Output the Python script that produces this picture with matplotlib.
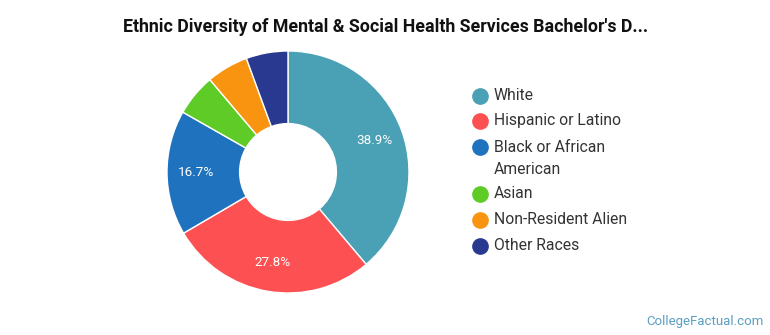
import matplotlib
matplotlib.use("Agg")
import matplotlib.pyplot as plt
from matplotlib.lines import Line2D

plt.rcParams['font.family'] = ['Roboto', 'DejaVu Sans']

categories = ["White", "Hispanic or Latino", "Black or African\nAmerican", "Asian",
              "Non-Resident Alien", "Other Races"]
shares = [38.9, 27.8, 16.7, 5.6, 5.6, 5.6]
colors = ["#4aa0b4", "#fc5052", "#1f72be", "#5fcb27", "#f8940f", "#2a3990"]

W, H = 770, 335
fig = plt.figure(figsize=(W / 100, H / 100), dpi=100)

# Donut
cx, cy, r = 288, 172, 121
ax = fig.add_axes([(cx - r) / W, (H - cy - r) / H, 2 * r / W, 2 * r / H])
wedges, texts, autotexts = ax.pie(
    shares, colors=colors, startangle=90, counterclock=False,
    wedgeprops=dict(width=0.6, edgecolor="white", linewidth=1),
    autopct="%.1f", pctdistance=0.76,
    textprops=dict(color="white", fontsize=9.7))
# label only the larger slices, with their stated shares
for t, s in zip(autotexts, shares):
    t.set_text(f"{s:.1f}%" if s > 10 else "")
ax.set_xlim(-1, 1)
ax.set_ylim(-1, 1)
ax.set_aspect("equal")
ax.axis("off")

# Title
fig.text(386 / W, 1 - 27 / H, "Ethnic Diversity of Mental & Social Health Services Bachelor's D...",
         ha="center", va="center", fontsize=12.8, fontweight="bold", color="#111111")

# Legend
row_y = [96, 121, 147, 194, 220, 246]
for lab, col, y in zip(categories, colors, row_y):
    fig.add_artist(Line2D([480 / W], [1 - y / H], marker="o", markersize=11,
                          markerfacecolor=col, markeredgecolor=col, linestyle="none",
                          transform=fig.transFigure))
    fig.text(494 / W, 1 - (y - 7.5) / H, lab, ha="left", va="top", fontsize=11.3,
             color="#333333", linespacing=1.6)

# Site credit
fig.text(764 / W, 1 - 321 / H, "CollegeFactual.com", ha="right", va="center",
         fontsize=9.5, color="#5a9fc2")

fig.savefig("out.png", dpi=100)
